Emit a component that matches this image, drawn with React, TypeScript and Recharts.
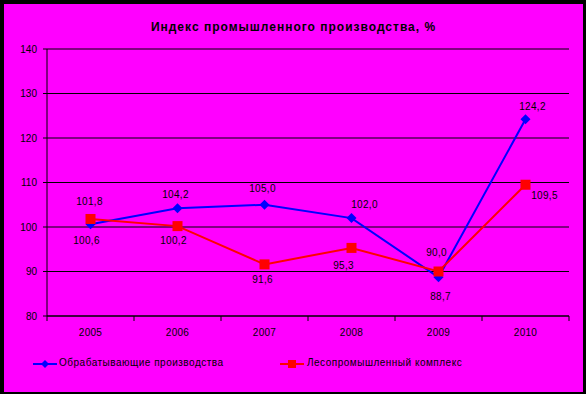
import React from 'react';
import { LineChart, Line, XAxis, YAxis, CartesianGrid, Legend, LabelList } from 'recharts';

const years = ['2005', '2006', '2007', '2008', '2009', '2010'];
const manufacturing = [100.6, 104.2, 105.0, 102.0, 88.7, 124.2];
const timberIndustry = [101.8, 100.2, 91.6, 95.3, 90.0, 109.5];
const yTicks = [80, 90, 100, 110, 120, 130, 140];

const seriesNames = {
  manufacturing: 'Обрабатывающие производства',
  timberIndustry: 'Лесопромышленный комплекс',
};

const data = years.map((year, i) => ({
  year,
  manufacturing: manufacturing[i],
  timberIndustry: timberIndustry[i],
}));

// label placement offsets (Excel-like manual placement)
const blueOffsets = [[-4, 16], [-2, -14], [-2, -16], [13, -14], [2, 19], [7, -13]];
const redOffsets = [[-1, -17], [-4, 14], [-2, 15], [-8, 18], [-2, -19], [19, 11]];

const W = 579;
const H = 388;
const X_AXIS_H = 30;
const M = { top: 45, right: 14, bottom: 76 - X_AXIS_H, left: 0 };
const Y_AXIS_W = 43;
const BAND = (W - M.left - M.right - Y_AXIS_W) / years.length;

const font = 'Arial, "Liberation Sans", sans-serif';

const fmt = (v: number) => v.toFixed(1).replace('.', ',');

const makeLabel = (offsets: number[][]) => (props: any) => {
  const { x, y, value, index } = props;
  const [dx, dy] = offsets[index] || [0, 0];
  return (
    <text x={x + dx} y={y + dy} dy={3.5} textAnchor="middle" fontSize={10} fill="#000" fontFamily={font} letterSpacing={0.3}>
      {fmt(value)}
    </text>
  );
};

const Diamond = (props: any) => {
  const { cx, cy } = props;
  if (cx == null || cy == null) return null;
  const r = 5;
  return <path d={`M${cx},${cy - r}L${cx + r},${cy}L${cx},${cy + r}L${cx - r},${cy}Z`} fill="#0000ff" />;
};

const Square = (props: any) => {
  const { cx, cy } = props;
  if (cx == null || cy == null) return null;
  const s = 5;
  return <rect x={cx - s} y={cy - s} width={s * 2} height={s * 2} fill="#ff0000" />;
};

const XTick = (props: any) => {
  const { x, y, payload, index } = props;
  const left = x - BAND / 2;
  return (
    <g>
      <line x1={left} y1={y} x2={left} y2={y + 5} stroke="#000" />
      {index === years.length - 1 && <line x1={x + BAND / 2} y1={y} x2={x + BAND / 2} y2={y + 5} stroke="#000" />}
      <text x={x} y={y + 16} dy={3.5} textAnchor="middle" fontSize={10} fill="#000" fontFamily={font} letterSpacing={0.3}>
        {payload.value}
      </text>
    </g>
  );
};

const LegendContent = () => (
  <div style={{ position: 'relative', height: 20, fontFamily: font, fontSize: 10, color: '#000', letterSpacing: 0.5 }}>
    <svg width={24} height={10} style={{ position: 'absolute', left: 29, top: 5 }}>
      <line x1={0} y1={5} x2={24} y2={5} stroke="#0000ff" strokeWidth={2} />
      <path d="M12,1L16,5L12,9L8,5Z" fill="#0000ff" />
    </svg>
    <span style={{ position: 'absolute', left: 55, top: 3, whiteSpace: 'nowrap' }}>{seriesNames.manufacturing}</span>
    <svg width={24} height={10} style={{ position: 'absolute', left: 276, top: 5 }}>
      <line x1={0} y1={5} x2={24} y2={5} stroke="#ff0000" strokeWidth={2} />
      <rect x={8} y={1} width={8} height={8} fill="#ff0000" />
    </svg>
    <span style={{ position: 'absolute', left: 303, top: 3, whiteSpace: 'nowrap' }}>{seriesNames.timberIndustry}</span>
  </div>
);

export default function App() {
  return (
    <div style={{ position: 'absolute', left: 0, top: 0, width: 586, height: 394, background: '#000' }}>
      <div style={{ position: 'absolute', left: 4, top: 4, width: W, height: H, background: '#ff00ff' }}>
        <div
          style={{
            position: 'absolute',
            left: 0,
            top: 16,
            width: W,
            textAlign: 'center',
            fontFamily: font,
            fontWeight: 'bold',
            fontSize: 12,
            letterSpacing: 1,
            color: '#000',
          }}
        >
          Индекс промышленного производства, %
        </div>
        <LineChart width={W} height={H} data={data} margin={M}>
          <CartesianGrid horizontal vertical={false} stroke="#000" strokeOpacity={1} />
          <XAxis
            dataKey="year"
            axisLine={{ stroke: '#000' }}
            tickLine={false}
            tickSize={0}
            tickMargin={0}
            tick={<XTick />}
            interval={0}
            height={X_AXIS_H}
            padding={{ left: BAND / 2, right: BAND / 2 }}
          />
          <YAxis
            domain={[80, 140]}
            ticks={yTicks}
            width={Y_AXIS_W}
            axisLine={{ stroke: '#000' }}
            tickLine={{ stroke: '#000' }}
            tickSize={4}
            tickMargin={6}
            tick={{ fontSize: 10, fill: '#000', fontFamily: font }}
            interval={0}
          />
          <YAxis
            yAxisId="right"
            orientation="right"
            domain={[80, 140]}
            width={0}
            tick={false}
            tickLine={false}
            axisLine={{ stroke: '#000' }}
          />
          <Legend
            verticalAlign="middle"
            align="center"
            layout="horizontal"
            content={<LegendContent />}
            wrapperStyle={{ top: 350, left: 0, width: W }}
          />
          <Line
            dataKey="manufacturing"
            name={seriesNames.manufacturing}
            stroke="#0000ff"
            strokeWidth={2}
            dot={<Diamond />}
            activeDot={false}
            isAnimationActive={false}
          >
            <LabelList dataKey="manufacturing" content={makeLabel(blueOffsets)} />
          </Line>
          <Line
            dataKey="timberIndustry"
            name={seriesNames.timberIndustry}
            stroke="#ff0000"
            strokeWidth={2}
            dot={<Square />}
            activeDot={false}
            isAnimationActive={false}
          >
            <LabelList dataKey="timberIndustry" content={makeLabel(redOffsets)} />
          </Line>
        </LineChart>
      </div>
    </div>
  );
}
